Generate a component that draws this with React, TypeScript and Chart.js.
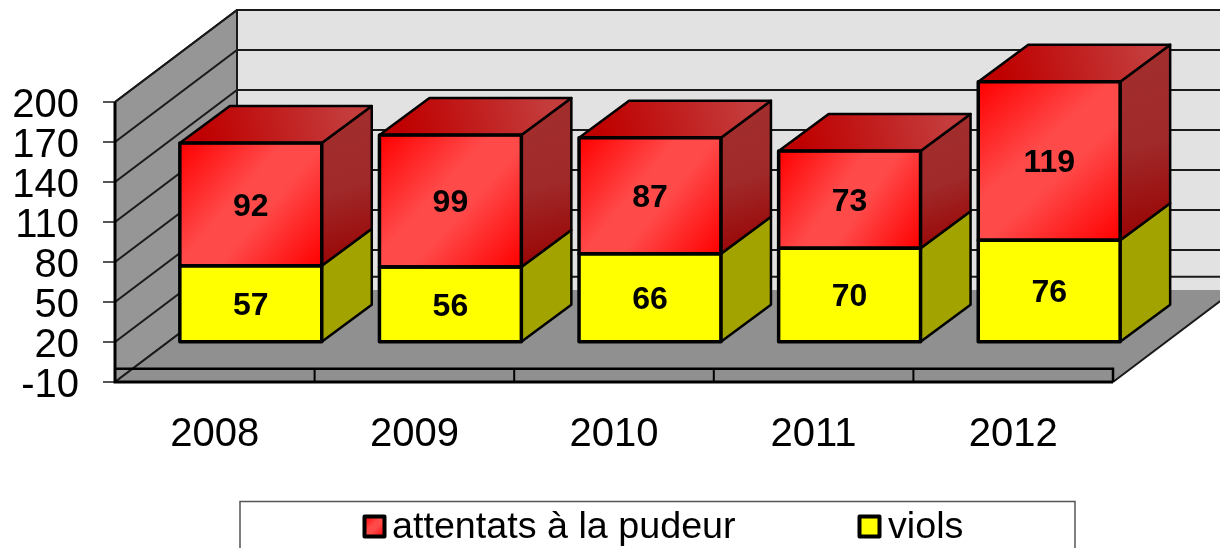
import React, { useEffect, useRef } from "react";
import { Chart, registerables } from "chart.js";

Chart.register(...registerables);

const categories = ["2008", "2009", "2010", "2011", "2012"];
const viols = [57, 56, 66, 70, 76];
const attentats = [92, 99, 87, 73, 119];
const violsLabel = "viols";
const attentatsLabel = "attentats à la pudeur";
const yMin = -10;
const yMax = 200;
const yStep = 30;

const FONT = "'Liberation Sans', Arial, sans-serif";
const BAR_SHIFT = { x: 36, y: -27 };
const BAR_DEPTH = { x: 50, y: -37 };
const WALL_DEPTH = { x: 122, y: -92 };
const BAR_PCT = 0.711;

function redFront(c: CanvasRenderingContext2D, x0: number, y0: number, x1: number, y1: number) {
  const g = c.createLinearGradient(x0, y0, x1, y1);
  g.addColorStop(0, "#ff0000");
  g.addColorStop(0.42, "#ff4a4a");
  g.addColorStop(0.58, "#ff4a4a");
  g.addColorStop(1, "#ff0000");
  return g;
}

function frontFill(ctx: any) {
  const chart = ctx.chart;
  if (ctx.type !== "data" || ctx.datasetIndex === 0) return "#ffff00";
  const { x, y } = chart.scales;
  const i = ctx.dataIndex;
  const cx = x.getPixelForValue(i);
  const w = (x.width / categories.length) * BAR_PCT;
  const low = y.getPixelForValue(viols[i]);
  const high = y.getPixelForValue(viols[i] + attentats[i]);
  if (![cx, w, low, high].every(Number.isFinite)) return "#ff0000";
  return redFront(chart.ctx, cx - w / 2, high, cx + w / 2, low);
}

const scene = {
  id: "scene3d",
  beforeDatasetsDraw(chart: any) {
    const { ctx, chartArea: a, scales } = chart;
    const y = scales.y;
    const x = scales.x;
    const dx = WALL_DEPTH.x;
    const dy = WALL_DEPTH.y;
    const zero = y.getPixelForValue(0);
    ctx.save();
    ctx.lineCap = "butt";

    // back wall
    ctx.fillStyle = "#e2e2e2";
    ctx.fillRect(a.left + dx, a.top + dy, a.width, a.height);

    // left wall
    ctx.beginPath();
    ctx.moveTo(a.left, a.top);
    ctx.lineTo(a.left + dx, a.top + dy);
    ctx.lineTo(a.left + dx, a.bottom + dy);
    ctx.lineTo(a.left, a.bottom);
    ctx.closePath();
    ctx.fillStyle = "#969696";
    ctx.fill();

    // grid on both walls
    ctx.strokeStyle = "#1a1a1a";
    ctx.lineWidth = 2;
    y.ticks.forEach((t: any) => {
      const p = y.getPixelForValue(t.value);
      ctx.beginPath();
      ctx.moveTo(a.left, p);
      ctx.lineTo(a.left + dx, p + dy);
      if (t.value !== yMin) ctx.lineTo(a.right + dx, p + dy);
      ctx.stroke();
    });
    ctx.beginPath();
    ctx.moveTo(a.left + dx, zero + dy);
    ctx.lineTo(a.right + dx, zero + dy);
    ctx.stroke();

    // floor
    ctx.beginPath();
    ctx.moveTo(a.left, a.bottom);
    ctx.lineTo(a.right, a.bottom);
    ctx.lineTo(a.right + dx, a.bottom + dy);
    ctx.lineTo(a.left + dx, a.bottom + dy);
    ctx.closePath();
    ctx.fillStyle = "#909090";
    ctx.fill();

    // -10 diagonal redrawn on floor, wall edges
    ctx.beginPath();
    ctx.moveTo(a.left, a.bottom);
    ctx.lineTo(a.left + dx, a.bottom + dy);
    ctx.lineTo(a.left + dx, a.top + dy);
    ctx.lineTo(a.right + dx, a.top + dy);
    ctx.moveTo(a.left, a.top);
    ctx.lineTo(a.left + dx, a.top + dy);
    ctx.moveTo(a.right, a.bottom);
    ctx.lineTo(a.right + dx, a.bottom + dy);
    ctx.stroke();

    // front slab
    ctx.strokeStyle = "#000";
    ctx.lineWidth = 2.5;
    ctx.beginPath();
    ctx.moveTo(a.left, zero);
    ctx.lineTo(a.right, zero);
    ctx.lineTo(a.right, a.bottom);
    ctx.stroke();
    const step = a.width / categories.length;
    ctx.lineWidth = 2;
    categories.forEach((_, i) => {
      if (i === 0) return;
      const tx = x.getPixelForValue(i) - step / 2;
      ctx.beginPath();
      ctx.moveTo(tx, zero);
      ctx.lineTo(tx, a.bottom);
      ctx.stroke();
    });
    ctx.lineWidth = 3;
    ctx.beginPath();
    ctx.moveTo(a.left, a.top);
    ctx.lineTo(a.left, a.bottom);
    ctx.lineTo(a.right, a.bottom);
    ctx.stroke();
    ctx.restore();
  },
  beforeDatasetDraw(chart: any) {
    chart.ctx.save();
    chart.ctx.translate(BAR_SHIFT.x, BAR_SHIFT.y);
  },
  afterDatasetDraw(chart: any) {
    chart.ctx.restore();
  },
  afterDatasetsDraw(chart: any) {
    const { ctx } = chart;
    const n = chart.data.datasets.length;
    ctx.save();
    ctx.translate(BAR_SHIFT.x, BAR_SHIFT.y);
    ctx.lineJoin = "round";
    for (let d = 0; d < n; d++) {
      const meta = chart.getDatasetMeta(d);
      meta.data.forEach((el: any) => {
        const { x, y, base, width } = el.getProps(["x", "y", "base", "width"], true);
        const l = x - width / 2;
        const r = x + width / 2;
        const dx = BAR_DEPTH.x;
        const dy = BAR_DEPTH.y;
        // side face
        ctx.beginPath();
        ctx.moveTo(r, y);
        ctx.lineTo(r + dx, y + dy);
        ctx.lineTo(r + dx, base + dy);
        ctx.lineTo(r, base);
        ctx.closePath();
        if (d === 0) {
          ctx.fillStyle = "#a3a300";
        } else {
          const g = ctx.createLinearGradient(r, y + dy, r + dx, base);
          g.addColorStop(0, "#a32e2e");
          g.addColorStop(0.5, "#a02a2a");
          g.addColorStop(1, "#990000");
          ctx.fillStyle = g;
        }
        ctx.fill();
        ctx.strokeStyle = "#000";
        ctx.lineWidth = 2.5;
        ctx.stroke();
        // top face on the last series
        if (d === n - 1) {
          ctx.beginPath();
          ctx.moveTo(l, y);
          ctx.lineTo(l + dx, y + dy);
          ctx.lineTo(r + dx, y + dy);
          ctx.lineTo(r, y);
          ctx.closePath();
          const g = ctx.createLinearGradient(l + dx * 0.5, y, r + dx * 0.5, y + dy);
          g.addColorStop(0, "#bf0000");
          g.addColorStop(1, "#c43c3c");
          ctx.fillStyle = g;
          ctx.fill();
          ctx.stroke();
        }
        // front outline
        ctx.lineWidth = 3.5;
        ctx.strokeRect(l, y, width, base - y);
      });
    }
    // value labels
    ctx.fillStyle = "#000";
    ctx.font = `bold 32px ${FONT}`;
    ctx.textAlign = "center";
    ctx.textBaseline = "middle";
    for (let d = 0; d < n; d++) {
      const meta = chart.getDatasetMeta(d);
      meta.data.forEach((el: any, i: number) => {
        const { x, y, base } = el.getProps(["x", "y", "base"], true);
        ctx.fillText(String(chart.data.datasets[d].data[i]), x, (y + base) / 2 + 2.5);
      });
    }
    ctx.restore();
  },
  afterDraw(chart: any) {
    const { ctx } = chart;
    ctx.save();
    // legend frame, running off the bottom of the picture
    ctx.fillStyle = "#fff";
    ctx.strokeStyle = "#555";
    ctx.lineWidth = 1.5;
    ctx.fillRect(240, 501.5, 835, 60);
    ctx.strokeRect(240, 501.5, 835, 60);
    const ds = chart.data.datasets;
    const items = [
      { label: ds[1].label, mx: 364.5, tx: 392 },
      { label: ds[0].label, mx: 859.5, tx: 888 },
    ];
    ctx.font = `37.7px ${FONT}`;
    ctx.textAlign = "left";
    ctx.textBaseline = "alphabetic";
    ctx.lineJoin = "round";
    items.forEach((it, idx) => {
      ctx.fillStyle = idx === 0 ? redFront(ctx, it.mx, 516.5, it.mx + 20, 536.5) : "#ffff00";
      ctx.fillRect(it.mx, 516.5, 20, 20);
      ctx.strokeStyle = "#000";
      ctx.lineWidth = 4;
      ctx.strokeRect(it.mx, 516.5, 20, 20);
      ctx.fillStyle = "#000";
      ctx.fillText(it.label, it.tx, 538);
    });
    ctx.restore();
  },
};

export default function App() {
  const ref = useRef<HTMLCanvasElement>(null);
  useEffect(() => {
    const chart = new Chart(ref.current as HTMLCanvasElement, {
      type: "bar",
      plugins: [scene],
      data: {
        labels: categories,
        datasets: [
          { label: violsLabel, data: viols, backgroundColor: frontFill, clip: false },
          { label: attentatsLabel, data: attentats, backgroundColor: frontFill, clip: false },
        ],
      },
      options: {
        animation: false,
        responsive: false,
        devicePixelRatio: 1,
        layout: { padding: { top: 102, right: 107, left: 0, bottom: 0 } },
        categoryPercentage: 1,
        barPercentage: BAR_PCT,
        plugins: { legend: { display: false }, tooltip: { enabled: false }, title: { display: false } },
        scales: {
          x: {
            stacked: true,
            grid: { display: false },
            border: { display: false },
            afterFit: (s: any) => {
              s.height = 166;
            },
            ticks: {
              color: "#000",
              font: { family: FONT, size: 40 },
              padding: 21,
              maxRotation: 0,
              autoSkip: false,
            },
          },
          y: {
            stacked: true,
            min: yMin,
            max: yMax,
            afterFit: (s: any) => {
              s.width = 115;
            },
            border: { display: false },
            grid: { drawOnChartArea: false, drawTicks: true, tickLength: 12, color: "#555", lineWidth: 2 },
            ticks: {
              stepSize: yStep,
              color: "#000",
              font: { family: FONT, size: 40 },
              padding: 24,
              labelOffset: 4,
              autoSkip: false,
            },
          },
        },
      } as any,
    });
    return () => chart.destroy();
  }, []);
  return (
    <canvas
      ref={ref}
      width={1220}
      height={548}
      style={{ position: "fixed", left: 0, top: 0, width: 1220, height: 548, display: "block" }}
    />
  );
}
